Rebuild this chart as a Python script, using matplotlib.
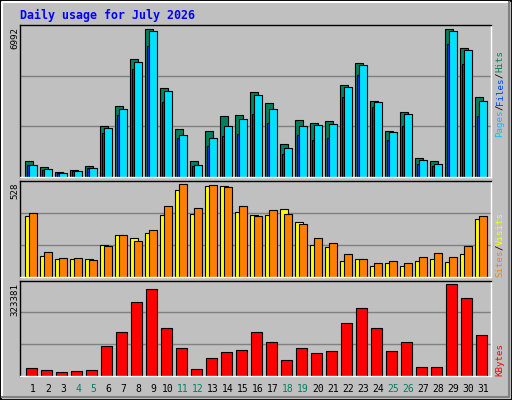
import matplotlib
matplotlib.use("Agg")
import matplotlib.pyplot as plt
from matplotlib.patches import Rectangle

days = list(range(1, 32))
weekend = [4, 5, 11, 12, 18, 19, 25, 26]
hits = [753, 476, 246, 338, 492, 2367, 3289, 5409, 6792, 4072, 2228, 753, 2136, 2828, 2874, 3888,
        3427, 1537, 2643, 2505, 2597, 4211, 5225, 3519, 2136, 3012, 891, 753, 6792, 5916, 3703]
files = [569, 384, 200, 292, 430, 2274, 3150, 5271, 6700, 3934, 1952, 569, 1813, 2367, 2689, 3750,
         3150, 1352, 2367, 2413, 2459, 4118, 5133, 3473, 2090, 2920, 799, 615, 6700, 5824, 3519]
pages = [569, 338, 200, 292, 400, 2044, 2874, 4948, 6008, 3473, 1813, 522, 1445, 1906, 1998, 2920,
         2505, 1076, 1952, 1721, 1813, 3703, 4672, 3243, 1721, 2367, 615, 522, 6101, 5179, 2828]
sites = [332, 112, 95, 95, 95, 172, 227, 211, 238, 337, 475, 343, 497, 497, 354, 337,
         337, 370, 299, 172, 161, 84, 95, 57, 73, 57, 84, 95, 79, 123, 315]
visits = [348, 134, 101, 101, 90, 167, 227, 194, 255, 387, 508, 376, 502, 491, 387, 332,
          365, 343, 288, 211, 183, 123, 95, 73, 84, 73, 106, 128, 106, 167, 332]
kbytes = [26006, 19222, 12438, 15830, 19222, 100632, 148122, 249885, 293982, 161690, 93848, 22614,
          59927, 80280, 87064, 148122, 114201, 53143, 93848, 76888, 83672, 178651, 229532, 161690,
          83672, 114201, 29398, 29398, 310943, 263453, 137945]
max_hits, max_visits, max_kb = 6992, 528, 323381
title = "Daily usage for July 2026"

W, H = 512, 400
fig = plt.figure(figsize=(W/100, H/100), dpi=100)
fig.patch.set_facecolor("#C0C0C0")
BG = "#C0C0C0"
MONO = "DejaVu Sans Mono"

def fx(px): return px / W
def fy(py): return 1 - py / H

# bevel border
fig.add_artist(Rectangle((0, 0), 1, 1, transform=fig.transFigure, fill=False, ec="black", lw=2))
fig.add_artist(plt.Line2D([fx(2), fx(2), fx(509)], [fy(397), fy(2), fy(2)], transform=fig.transFigure, color="white", lw=1.5))
fig.add_artist(plt.Line2D([fx(2), fx(509), fx(509)], [fy(397), fy(397), fy(2)], transform=fig.transFigure, color="#808080", lw=1.5))

L, R = 20.3, 490.7
NS = (R - L) / 15.0

def make_ax(top, bot):
    ax = fig.add_axes([fx(L), fy(bot), fx(R) - fx(L), (bot - top) / H])
    ax.set_facecolor(BG)
    ax.set_xlim(0, NS)
    ax.set_ylim(0, 1)
    ax.set_xticks([]); ax.set_yticks([])
    for y in (1/3, 2/3):
        ax.axhline(y, color="#808080", lw=1, zorder=0)
    for s in ax.spines.values():
        s.set_color("black"); s.set_linewidth(1)
    ax.spines["bottom"].set_color("white")
    ax.spines["right"].set_color("white")
    return ax

x0 = [d - 1 for d in days]
ax1 = make_ax(25, 177)
ax1.bar([x + 0.33 for x in x0], [v / max_hits for v in hits], 0.49, align="edge", color="#008060", ec="black", lw=0.8)
ax1.bar([x + 0.45 for x in x0], [v / max_hits for v in pages], 0.5, align="edge", color="#0040FF", ec="black", lw=0.8)
ax1.bar([x + 0.56 for x in x0], [v / max_hits for v in files], 0.53, align="edge", color="#00E0FF", ec="black", lw=0.8)

ax2 = make_ax(180.7, 276.7)
ax2.bar([x + 0.33 for x in x0], [v / max_visits for v in sites], 0.5, align="edge", color="#FFFF00", ec="black", lw=0.8)
ax2.bar([x + 0.6 for x in x0], [v / max_visits for v in visits], 0.49, align="edge", color="#FF8000", ec="black", lw=0.8)

ax3 = make_ax(280.7, 376)
ax3.bar([x + 0.4 for x in x0], [v / max_kb for v in kbytes], 0.69, align="edge", color="#FF0000", ec="black", lw=0.8)

fig.text(fx(20), fy(15), title, family=MONO, weight="bold", color="#0000FF", fontsize=8.4, va="center", ha="left")

for top, val in ((27, max_hits), (182, max_visits), (283, max_kb)):
    fig.text(fx(15), fy(top), str(val), family=MONO, rotation=90, fontsize=6.6, ha="center", va="top")

for d in days:
    xc = L + (d - 1) * 15 + 12.7
    fig.text(fx(xc), fy(389), str(d), family=MONO, fontsize=7, ha="center", va="center",
             color="#008060" if d in weekend else "black")

def side(start_py, parts):
    cw = 5.4
    pos = start_py
    for txt, col in parts:
        fig.text(fx(500), fy(pos), txt, family=MONO, rotation=90, fontsize=6.6, ha="center", va="bottom", color=col)
        pos -= cw * len(txt)

side(137, [("Pages", "#00C0FF"), ("/", "black"), ("Files", "#0040FF"), ("/", "black"), ("Hits", "#008060")])
side(277, [("Sites", "#FF8000"), ("/", "black"), ("Visits", "#FFFF00")])
side(376, [("KBytes", "#FF0000")])

fig.savefig("out.png", dpi=100, facecolor=fig.get_facecolor())
